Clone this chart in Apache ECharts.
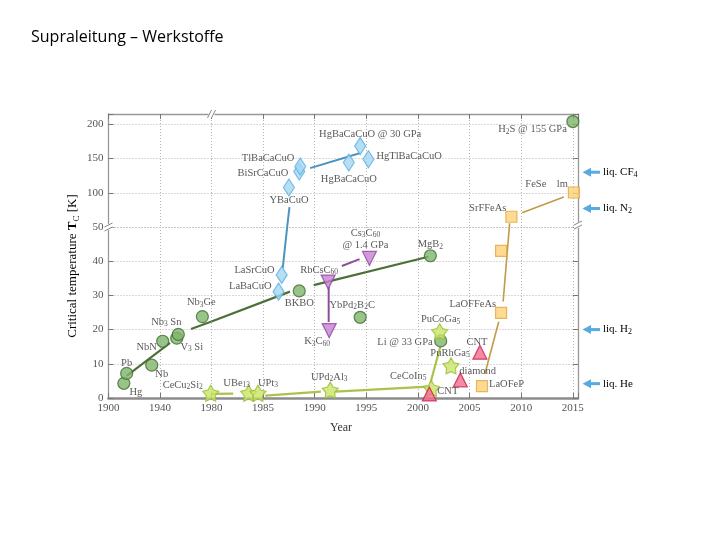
<!DOCTYPE html>
<html><head><meta charset="utf-8">
<script src="https://cdn.jsdelivr.net/npm/echarts@6/dist/echarts.min.js"></script>
<style>html,body{margin:0;background:#fff}#c{width:720px;height:540px}</style>
</head><body><div id="c"></div>
<script>
// ---------------- data (name, year, Tc [K]) ----------------
const metals = [
  ['Hg', 1911.9, 4.3], ['Pb', 1914.1, 7.2], ['Nb', 1933.6, 9.6], ['NbN', 1942.1, 16.6],
  ['V_{3} Si', 1953.0, 17.5], ['Nb_{3} Sn', 1954.2, 18.6], ['Nb_{3}Ge', 1972.9, 23.8],
  ['BKBO', 1988.5, 31.3], ['YbPd_{2}B_{2}C', 1994.4, 23.6], ['MgB_{2}', 2001.2, 41.6],
  ['Li @ 33 GPa', 2002.2, 16.7], ['H_{2}S @ 155 GPa', 2015.0, 204]
];
const cuprates = [
  ['LaBaCuO', 1986.5, 31.1], ['LaSrCuO', 1986.8, 36], ['YBaCuO', 1987.5, 107.6],
  ['BiSrCaCuO', 1988.5, 131], ['TlBaCaCuO', 1988.6, 138.3], ['HgBaCaCuO', 1993.3, 144.1],
  ['HgTlBaCaCuO', 1995.2, 149], ['HgBaCaCuO @ 30 GPa', 1994.4, 168.1]
];
const fullerenes = [
  ['RbCsC_{60}', 1991.3, 33.9], ['K_{3}C_{60}', 1991.4, 19.7], ['Cs_{3}C_{60}\n@ 1.4 GPa', 1995.3, 40.8]
];
const heavyFermions = [
  ['CeCu_{2}Si_{2}', 1979.4, 1.4], ['UBe_{13}', 1983.6, 1.4], ['UPt_{3}', 1984.5, 1.4],
  ['UPd_{2}Al_{3}', 1991.5, 2.3], ['CeCoIn_{5}', 2001.3, 2.8], ['PuCoGa_{5}', 2002.1, 19.4],
  ['PuRhGa_{5}', 2003.2, 9.4]
];
const carbon = [ ['CNT', 2001.1, 1.2], ['diamond', 2004.1, 5.3], ['CNT', 2006.0, 13.4] ];
const ironBased = [
  ['LaOFeP', 2006.2, 3.5], ['LaOFFeAs', 2008.05, 24.9], ['', 2008.05, 43],
  ['SrFFeAs', 2009.05, 65], ['FeSe    lm', 2015.1, 100.4]
];
// trend lines (pieces, per panel)
const greenTrend = [
  [[1914.1, 6.5], [1947.8, 16.1]], [[1964.1, 20.2], [1980, 22.35]],
  [[1980, 22.35], [1987.6, 31.1]], [[1989.9, 33.0], [2001.0, 41.3]]
];
const blueTrend = [
  [[1986.9, 38.0], [1987.33, 50]], [[1987.33, 50], [1987.55, 79]], [[1989.55, 136], [1994.34, 157.8]]
];
const purpleTrend = [ [[1991.35, 32.5], [1991.35, 22.2]], [[1992.63, 38.6], [1994.34, 40.6]] ];
const starTrend = [
  [[1980.0, 1.2], [1982.1, 1.3]], [[1985.2, 0.7], [1990.6, 1.85]],
  [[1992.0, 1.85], [2001.0, 3.3]], [[2001.2, 4.3], [2002.16, 15.0]]
];
const orangeTrend = [
  [[2006.48, 7.0], [2007.82, 22.3]], [[2008.25, 28.2], [2008.85, 50]],
  [[2008.85, 50], [2008.88, 55.4]], [[2010.09, 70.8], [2014.12, 93.7]]
];
const liquids = [ ['liq. CF_{4}', 130], ['liq. N_{2}', 77], ['liq. H_{2}', 20], ['liq. He', 4.2] ];
const xLeftTicks = [1900, 1980, 40];   // min, max, step
const xRightTicks = [1980, 2015.5, 5];
const yLowTicks = [0, 50, 10];
const yHighTicks = [50, 215, 50];

// ---------------- label placement (offset from mark, align) ----------------
const metalLabels = [[12,9],[0,-10],[10,9],[-16,6],[15,9],[-12,-12],[-1,-14],[0,12],[-8,-12],[0,-11],[-8,1,'right'],[-6,8,'right']];
const cuprateLabels = [[-7,-5,'right'],[-7,-5,'right'],[0,13],[-11,2,'right'],[-6,-8,'right'],[0,17],[8,-3,'left'],[10,-12]];
const fullereneLabels = [[-9,-12],[-12,11],[-4,-19]];
const hfLabels = [[-28,-8],[-12,-10],[10,-10],[-1,-13],[-5,-12,'right'],[1,-12],[-1,-13]];
const carbonLabels = [[8,-3,'left'],[-1,-9,'left'],[-3,-10]];
const ironLabels = [[7,-2,'left'],[-5,-9,'right'],null,[-5,-8,'right'],[-6,-8,'right']];

// ---------------- layout & style ----------------
const SERIF = '"Liberation Serif","DejaVu Serif",serif';
const L = 108.5, XB = 211.5, R = 578, T = 114, YB = 227, B = 398;
const TXT = '#2e2e2e';
const RICH = {
  a: {fontFamily: SERIF, fontSize: 10.5, color: TXT, lineHeight: 12, verticalAlign: 'middle'},
  s: {fontFamily: SERIF, fontSize: 7.5, color: TXT, lineHeight: 8, verticalAlign: 'bottom'}
};
const RICH_LIQ = {
  a: {fontFamily: SERIF, fontSize: 11, color: TXT, lineHeight: 13, verticalAlign: 'middle'},
  s: {fontFamily: SERIF, fontSize: 8, color: TXT, lineHeight: 8, verticalAlign: 'bottom'}
};
function fmt(str) {
  return str.split('\n').map(line => line.split(/(_\{[^}]*\})/).filter(p => p.length)
    .map(p => p.startsWith('_{') ? '{s|' + p.slice(2, -1) + '}' : '{a|' + p + '}').join('')).join('\n');
}
function panel(x, y) { return (x >= 1980 ? 1 : 0) + (y > 50 ? 2 : 0); }

const STAR = 'path://M50,0L66.46,27.35L97.55,34.55L76.63,58.65L79.39,90.45L50,78L20.61,90.45L23.37,58.65L2.45,34.55L33.54,27.35Z';
const families = [
  {data: metals, labels: metalLabels, symbol: 'circle', size: 12, fill: '#7fb56b', stroke: '#3f6b32'},
  {data: cuprates, labels: cuprateLabels, symbol: 'diamond', size: [11, 17], fill: '#a4d7f2', stroke: '#5aafe0'},
  {data: fullerenes, labels: fullereneLabels, symbol: 'triangle', rotate: 180, size: 14, fill: '#c77fd2', stroke: '#8e45a0'},
  {data: heavyFermions, labels: hfLabels, symbol: STAR, size: 16, fill: '#cbe566', stroke: '#98bc3a'},
  {data: carbon, labels: carbonLabels, symbol: 'triangle', size: 14, fill: '#f26d8d', stroke: '#c8204e'},
  {data: ironBased, labels: ironLabels, symbol: 'rect', size: 11, fill: '#fdd27a', stroke: '#e3a63a'}
];
const trends = [
  {pieces: greenTrend, color: '#4f6f38', width: 2.2},
  {pieces: blueTrend, color: '#4d93c0', width: 2},
  {pieces: purpleTrend, color: '#8b4f99', width: 2},
  {pieces: starTrend, color: '#a9c24a', width: 2.2},
  {pieces: orangeTrend, color: '#c29a48', width: 1.6}
];

const series = [];
trends.forEach(t => t.pieces.forEach(seg => {
  const g = panel((seg[0][0] + seg[1][0]) / 2, (seg[0][1] + seg[1][1]) / 2);
  series.push({type: 'line', xAxisIndex: g, yAxisIndex: g, data: seg, symbol: 'none', silent: true,
    lineStyle: {color: t.color, width: t.width}, z: 2, animation: false});
}));
families.forEach(f => {
  [0, 1, 2, 3].forEach(g => {
    const items = [];
    f.data.forEach((d, i) => {
      if (panel(d[1], d[2]) !== g) return;
      const lp = f.labels[i];
      items.push({value: [d[1], d[2]], name: d[0],
        label: lp && d[0] ? {show: true, offset: [lp[0], lp[1]], align: lp[2] || 'center'} : {show: false}});
    });
    if (!items.length) return;
    series.push({type: 'scatter', xAxisIndex: g, yAxisIndex: g, data: items, clip: false,
      symbol: f.symbol, symbolSize: f.size, symbolRotate: f.rotate || 0,
      itemStyle: {color: f.fill, borderColor: f.stroke, borderWidth: 1.2},
      label: {show: true, position: 'inside', color: TXT, textBorderWidth: 0, rich: RICH,
        formatter: p => fmt(p.name)}, z: 4, animation: false});
  });
});
const ARROW = '#57abdf';
[1, 3].forEach(g => {
  const rows = liquids.map((d, i) => [xRightTicks[1], d[1], i]).filter(r => panel(r[0], r[1]) === g);
  series.push({type: 'custom', xAxisIndex: g, yAxisIndex: g, data: rows, clip: false, silent: true, animation: false,
    renderItem: (params, api) => {
      const p = api.coord([api.value(0), api.value(1)]);
      const x = p[0], y = p[1];
      return {type: 'group', children: [
        {type: 'line', shape: {x1: x + 11, y1: y, x2: x + 22, y2: y}, style: {stroke: ARROW, lineWidth: 3}},
        {type: 'polygon', shape: {points: [[x + 4.5, y], [x + 13, y - 4.5], [x + 13, y + 4.5]]}, style: {fill: ARROW}},
        {type: 'text', x: x + 25, y: y, style: {text: fmt(liquids[api.value(2)][0]), rich: RICH_LIQ,
          align: 'left', verticalAlign: 'middle'}}
      ]};
    }});
});

const tickLabel = {fontFamily: SERIF, fontSize: 11, color: '#555'};
const dotted = {show: true, lineStyle: {type: [1, 2], color: '#b5b5b5', width: 1}};
function xAx(g, ticks, pos, labels, lineColor, lineWidth) {
  return {gridIndex: g, type: 'value', min: ticks[0], max: ticks[1], interval: ticks[2], position: pos,
    axisLine: {show: true, onZero: false, lineStyle: {color: lineColor, width: lineWidth}},
    axisTick: {show: true, inside: true, length: 5, lineStyle: {color: '#777'}},
    axisLabel: {show: labels, ...tickLabel, margin: 5, showMinLabel: true, showMaxLabel: true,
      formatter: v => (labels && (v - ticks[0]) % ticks[2] === 0 && !(g === 1 && v === 1980)) ? String(v) : ''},
    splitLine: dotted};
}
function yAx(g, ticks, pos, labels) {
  return {gridIndex: g, type: 'value', min: ticks[0], max: ticks[1], interval: ticks[2], position: pos,
    axisLine: {show: true, onZero: false, lineStyle: {color: '#999', width: 1.3}},
    axisTick: {show: true, inside: true, length: 5, lineStyle: {color: '#777'}},
    axisLabel: {show: labels, ...tickLabel, margin: 5, showMinLabel: true, showMaxLabel: true,
      formatter: v => (v % ticks[2] === 0 && !(g === 2 && v === 50)) ? String(v) : ''},
    splitLine: dotted};
}

function brk(x, y, horizontal) {
  const els = [{type: 'rect', shape: horizontal ? {x: x - 3, y: y - 4, width: 6, height: 8} : {x: x - 4, y: y - 3, width: 8, height: 6},
    style: {fill: '#fff'}, z: 100}];
  [-2, 2].forEach(d => {
    els.push(horizontal
      ? {type: 'line', shape: {x1: x + d - 2, y1: y + 4, x2: x + d + 2, y2: y - 4}, style: {stroke: '#888', lineWidth: 1}, z: 101}
      : {type: 'line', shape: {x1: x - 4, y1: y + d + 2, x2: x + 4, y2: y + d - 2}, style: {stroke: '#888', lineWidth: 1}, z: 101});
  });
  return els;
}

const option = {
  animation: false,
  backgroundColor: '#fff',
  title: {text: 'Supraleitung – Werkstoffe', left: 26, top: 24,
    textStyle: {fontFamily: '"Open Sans","Noto Sans",sans-serif', fontSize: 16, fontWeight: 'normal', color: '#000'}},
  grid: [
    {left: L, top: YB, width: XB - L, height: B - YB},
    {left: XB, top: YB, width: R - XB, height: B - YB},
    {left: L, top: T, width: XB - L, height: YB - T},
    {left: XB, top: T, width: R - XB, height: YB - T}
  ],
  xAxis: [
    xAx(0, xLeftTicks, 'bottom', true, '#8c8c8c', 2.6),
    xAx(1, xRightTicks, 'bottom', true, '#8c8c8c', 2.6),
    xAx(2, xLeftTicks, 'top', false, '#999', 1.3),
    xAx(3, xRightTicks, 'top', false, '#999', 1.3)
  ],
  yAxis: [
    yAx(0, yLowTicks, 'left', true),
    yAx(1, yLowTicks, 'right', false),
    yAx(2, yHighTicks, 'left', true),
    yAx(3, yHighTicks, 'right', false)
  ],
  graphic: [
    {type: 'text', x: 73, y: 266, rotation: Math.PI / 2, z: 50,
      style: {text: '{a|Critical temperature }{t|T}{s|C}{a| [K]}', align: 'center', verticalAlign: 'middle',
        rich: {a: {fontFamily: SERIF, fontSize: 13, color: '#333', lineHeight: 16, verticalAlign: 'middle'},
               t: {fontFamily: SERIF, fontSize: 13, fontWeight: 'bold', color: '#333', lineHeight: 16, verticalAlign: 'middle'},
               s: {fontFamily: SERIF, fontSize: 9, color: '#333', lineHeight: 10, verticalAlign: 'bottom'}}}},
    {type: 'text', x: 341, y: 428, z: 50,
      style: {text: 'Year', align: 'center', verticalAlign: 'middle', font: '12px ' + SERIF, fill: '#333'}},
    ...brk(XB, T, true), ...brk(L, YB, false), ...brk(R, YB - 2, false)
  ],
  series
};
const chart = echarts.init(document.getElementById('c'), null, {renderer: 'canvas'});
chart.setOption(option);
</script></body></html>
